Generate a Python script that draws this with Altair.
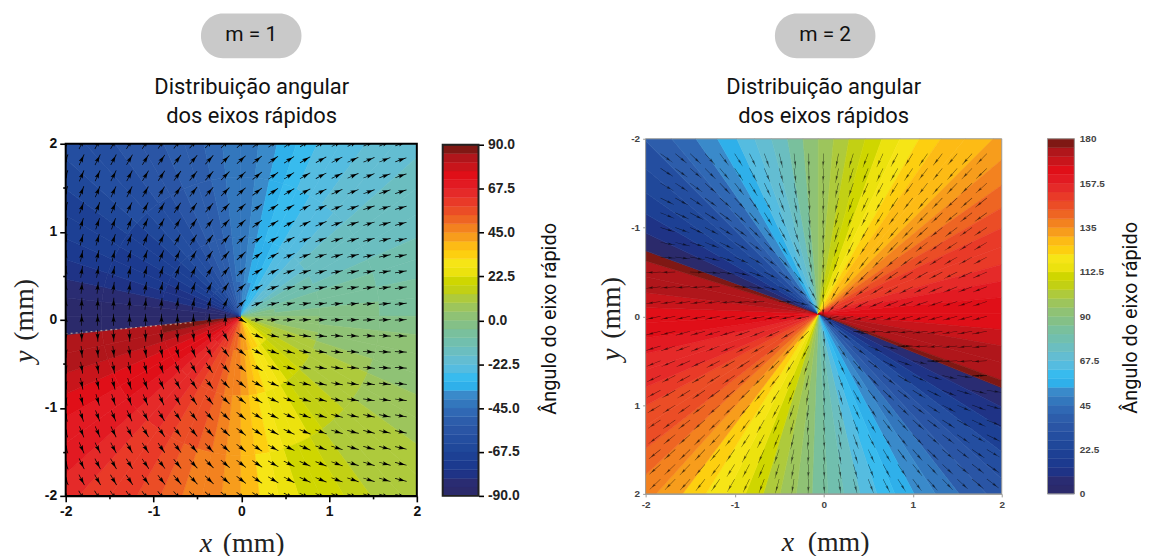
import altair as alt
import pandas as pd

PALETTE = ["#2b2a6b","#2a2c72","#1f3386","#1c3a8f","#1d4094","#20489a","#244ea0","#2a55a5","#2d5dab","#3068b4",
           "#3377bd","#3a8aca","#2fb0ea","#38bbee","#55bce0","#63bdd2","#6bbec0","#71bfae","#79c09d","#84c087",
           "#8fc275","#9dc55c","#aeca3c","#c2d014","#cfd600","#ece20e","#f6e516","#fdcf10","#fdbb15","#f79d1c",
           "#f3821f","#ee6523","#eb4d26","#e93a28","#e52a29","#e21a22","#e00f18","#c8151b","#b0161b","#7f1814"]
EDGES1 = [-90,-85.5,-81,-76.5,-72,-67.5,-63,-58.5,-54,-49.5,-45,-40.5,-36,-31.5,-27,-22.5,-18,-13.5,-9,-4.5,0,
          4.5,9,13.5,18,22.5,27,31.5,36,40.5,45,49.5,54,58.5,63,67.5,72,76.5,81,85.5,90]
EDGES2 = [0,4.5,9,13.5,18,22.5,27,31.5,36,40.5,45,49.5,54,58.5,63,67.5,72,76.5,81,85.5,90,
          94.5,99,103.5,108,112.5,117,121.5,126,130.5,135,139.5,144,148.5,153,157.5,162,166.5,171,175.5,180]
TICKS1 = [90.0,67.5,45.0,22.5,0.0,-22.5,-45.0,-67.5,-90.0]
TICKS2 = [180,157.5,135,112.5,90,67.5,45,22.5,0]
AXIS_VALUES1 = [-2,-1.5,-1,-0.5,0,0.5,1,1.5,2]
AXIS_VALUES2 = [-2,-1,0,1,2]

# m = 1: colour of each fan sector (start angle, clockwise from top), in four rings
M1_START = [0,6,12,18,24,30,36,42,48,54,60,66,72,78,84,90,96,102,108,114,120,126,132,138,144,150,156,162,168,174,
            180,186,192,198,204,210,216,222,228,234,240,246,252,258,264,270,276,282,288,294,300,306,312,318,324,330,336,342,348,354,360]
M1_RINGS = [0,35,80,140,300]
M1_R1 = [-43,-40,-37,-34,-31,-28,-25,-22,-19,-16,-13,-10,-7,-4,-1,2,5,8,11,14,17,20,23,26,29,32,35,38,41,44,
         47,50,53,56,59,62,65,68,71,74,77,80,83,86,-89,-88,-85,-82,-79,-76,-73,-70,-67,-64,-61,-58,-55,-52,-49,-46]
M1_R2 = [-43,-39,-36,-33,-30,-27,-24,-21,-19,-16,-13,-11,-8,-5,-2,1,3,6,9,11,14,16,19,22,25,28,31,34,38,41,
         45,48,52,55,58,61,64,67,70,73,76,80,83,86,-89,-87,-85,-81,-78,-75,-72,-69,-65,-63,-60,-57,-54,-51,-48,-45]
M1_R3 = [-42,-38,-34,-31,-28,-25,-23,-21,-18,-16,-14,-11,-9,-7,-4,-1,2,4,6,9,10,13,15,17,21,24,26,30,34,39,
         43,47,50,54,57,60,63,66,69,72,76,79,82,85,-88,-86,-84,-80,-76,-73,-70,-68,-64,-61,-59,-56,-54,-50,-47,-44]
M1_R4 = [-42,-37,-33,-30,-27,-24,-22,-20,-18,-16,-14,-12,-10,-8,-5,-2,0,2,4,6,7,9,11,13,16,19,22,26,31,36,
         41,45,49,53,56,59,62,65,68,71,75,79,82,85,-89,-87,-84,-79,-75,-72,-69,-67,-62,-60,-58,-56,-53,-50,-47,-44]

# m = 2: colour of each fan sector
M2_START = [112,117,122,127,132,137,142,147,152,157,162,167,172,177,182,187,192,197,202,207,212,217,222,227,232,237,242,247,252,257,262,267,272,277,282,287,
            290,295,300,305,310,315,320,325,330,335,340,345,350,355,360,365,370,375,380,385,390,395,400,405,410,415,420,425,430,435,440,445,450,455,460,465,470,472]
M2_VALUE = [5,13,22,29,35,40,45,50,55,60,66,72,78,84,90,96,102,108,113,118,124,133,138,141,145,148,150,153,156,160,163,166,169,172,175,179,
            4,11,19,25,31,36,43,50,57,63,70,76,83,90,96,101,107,111,115,119,123,127,130,134,138,142,146,149,152,156,159,162,165,169,172,175,179]

# arrow directions, degrees clockwise on screen, top row first
X1 = [-2,-1.818,-1.636,-1.455,-1.273,-1.091,-0.909,-0.727,-0.545,-0.364,-0.182,0,0.182,0.364,0.545,0.727,0.909,1.091,1.273,1.455,1.636,1.818]
Y1 = [2,1.818,1.636,1.455,1.273,1.091,0.909,0.727,0.545,0.364,0.182,0,-0.182,-0.364,-0.545,-0.727,-0.909,-1.091,-1.273,-1.455,-1.636,-1.818,-2]
A1 = [
[-65,-63,-62,-60,-59,-57,-55,-52,-50,-47,-45,-43,-40,-37,-35,-32,-30,-28,-26,-24,-23,-21],
[-67,-65,-63,-62,-60,-58,-55,-53,-50,-48,-45,-43,-40,-36,-34,-31,-29,-27,-25,-23,-22,-20],
[-68,-67,-65,-63,-62,-59,-57,-54,-51,-48,-45,-43,-39,-35,-33,-30,-28,-26,-24,-22,-20,-19],
[-70,-68,-67,-65,-63,-61,-59,-56,-52,-49,-46,-43,-38,-35,-31,-29,-26,-24,-22,-20,-19,-18],
[-72,-70,-69,-67,-65,-63,-60,-57,-54,-50,-46,-43,-38,-34,-30,-27,-25,-22,-20,-18,-17,-16],
[-74,-73,-71,-70,-68,-65,-62,-59,-56,-51,-47,-43,-37,-32,-29,-26,-23,-20,-18,-17,-16,-15],
[-77,-75,-74,-72,-70,-68,-65,-62,-58,-53,-48,-43,-36,-30,-27,-23,-20,-18,-16,-15,-14,-13],
[-79,-78,-77,-75,-74,-71,-68,-65,-61,-56,-49,-43,-35,-29,-24,-20,-18,-16,-14,-13,-12,-11],
[-82,-81,-80,-79,-77,-75,-73,-70,-65,-59,-51,-43,-32,-26,-20,-17,-15,-13,-12,-11,-10,-10],
[-85,-84,-84,-83,-82,-80,-78,-75,-71,-65,-56,-43,-29,-20,-16,-13,-11,-10,-10,-9,-8,-8],
[-88,-88,-87,-87,-86,-85,-84,-83,-80,-75,-65,-43,-20,-13,-10,-9,-8,-7,-7,-6,-6,-6],
[-90,-90,-90,-90,-90,-90,-90,-90,-90,-90,-90,30,-3,-3,-3,-3,-3,-3,-3,-3,-3,-3],
[88,88,88,87,87,87,86,85,83,78,62,38,23,13,9,7,6,5,4,3,3,2],
[85,84,84,83,82,80,78,74,69,62,52,38,28,20,15,11,9,7,5,4,3,3],
[81,80,80,79,77,75,72,69,62,57,48,38,28,20,15,12,9,8,6,5,4,4],
[79,78,77,75,72,69,66,62,57,52,46,38,30,23,18,15,12,10,9,8,7,6],
[76,75,73,72,70,67,65,62,55,50,44,38,31,25,20,17,15,12,10,9,8,8],
[74,72,69,67,65,62,59,56,52,48,43,38,32,27,23,20,17,15,13,12,11,10],
[70,68,66,64,62,59,56,53,50,47,42,38,33,28,25,22,19,17,15,14,13,12],
[67,66,64,62,60,57,55,52,49,46,42,38,34,29,26,23,20,18,17,15,14,13],
[66,64,62,60,58,56,53,51,48,45,41,38,34,30,27,24,22,20,18,17,15,14],
[64,62,60,59,57,54,52,50,47,44,41,38,35,31,28,25,23,21,19,18,16,15],
[62,60,59,57,55,53,51,49,47,44,41,38,35,32,28,26,24,22,20,19,17,16],
]
X2 = [-1.833,-1.667,-1.5,-1.333,-1.167,-1,-0.833,-0.667,-0.5,-0.333,-0.167,0,0.167,0.333,0.5,0.667,0.833,1,1.167,1.333,1.5,1.667,1.833]
Y2 = X2
A2 = [
[36,40,44,48,53,58,64,70,76,83,90,93,101,107,111,115,118,122,125,128,130,132,134],
[33,36,41,45,50,56,61,67,74,82,89,93,102,108,112,116,120,124,127,129,131,134,136],
[30,33,36,41,46,52,58,65,72,80,88,93,103,109,114,118,122,126,128,131,134,136,138],
[26,29,33,36,41,47,54,61,69,78,86,93,104,110,116,120,124,128,131,134,137,139,141],
[22,25,28,32,36,42,50,58,66,75,85,93,105,112,117,122,127,130,134,137,140,142,144],
[17,20,24,27,31,36,44,52,61,72,84,93,106,114,120,126,130,134,138,141,143,145,147],
[10,14,17,22,26,31,36,45,56,67,82,93,108,116,124,129,134,138,142,144,147,148,149],
[4,7,10,14,18,24,29,36,47,61,78,93,110,120,128,134,139,143,146,148,150,151,152],
[177,178,2,5,9,14,20,27,36,52,72,93,114,126,134,141,145,148,150,152,153,155,156],
[174,175,176,177,178,2,7,14,24,36,61,93,120,134,143,148,151,153,155,157,158,159,159],
[171,171,172,172,173,174,175,177,2,14,36,93,134,148,153,157,159,160,161,161,162,162,162],
[168,168,168,168,168,168,168,168,168,168,168,45,165,165,165,165,165,165,165,165,165,165,165],
[165,165,164,164,163,162,161,158,155,149,136,87,37,11,178,176,174,173,172,171,170,169,169],
[162,161,160,159,158,156,153,150,145,136,118,87,56,37,24,13,1,177,176,175,174,174,173],
[158,157,156,155,152,150,147,143,136,123,109,87,65,49,37,28,20,13,4,178,177,176,176],
[155,153,152,150,148,145,141,136,129,118,103,87,70,56,45,37,30,24,17,13,8,1,178],
[152,150,148,146,144,140,136,130,122,113,100,87,74,61,51,43,37,32,26,22,17,13,8],
[149,147,145,143,139,136,131,125,118,109,98,87,76,65,56,49,43,37,33,28,24,20,16],
[146,144,142,139,136,132,127,120,114,106,96,87,78,68,59,52,47,41,37,33,29,26,23],
[143,141,139,136,133,129,123,118,112,103,95,87,79,70,62,56,50,45,40,37,34,30,27],
[141,138,136,133,130,125,120,114,109,102,94,87,80,72,65,59,53,49,44,40,37,34,31],
[138,136,134,131,127,122,118,113,107,100,93,87,80,74,67,61,56,51,47,43,40,37,34],
[136,134,132,128,125,120,116,111,105,99,93,87,81,75,69,63,58,53,49,46,43,40,37],
]

ARROW1 = "M-6 -.35 L-1.2 -.35 L-2.4 -2.1 L3 -.5 L6 -.35 L6 .35 L3 .5 L-2.4 2.1 L-1.2 .35 L-6 .35 Z"
ARROW2 = "M0 -.25 L8.5 -.25 L7.5 -1.2 L12 -.25 L15 -.15 L15 .15 L12 .25 L7.5 1.2 L8.5 .25 L0 .25 Z"
SANS = "Roboto"
ARIAL = "Liberation Sans"
SERIF = "Liberation Serif"
GREY = "#9a9a96"


def table(**cols):
    return pd.DataFrame(cols)


def fan_rows(starts, values, r0, r1):
    return [{"t0": starts[k], "t1": starts[k + 1], "v": values[k], "r0": r0, "r1": r1} for k in range(len(values))]


def fan(rows, cx, cy, xs, ys, cs, ax):
    df = pd.DataFrame(rows)
    df["cx"] = cx
    df["cy"] = cy
    theta = alt.Scale(domain=[0, 360], range=[0, 6.283185307])
    return alt.Chart(df).mark_arc(clip=True, strokeWidth=0.6).encode(
        x=alt.X("cx:Q", scale=xs, axis=alt.Axis(**ax)),
        y=alt.Y("cy:Q", scale=ys, axis=alt.Axis(**ax)),
        theta=alt.Theta("t0:Q", scale=theta, stack=None),
        theta2=alt.Theta2("t1:Q"),
        radius=alt.Radius("r1:Q", scale=None),
        radius2=alt.Radius2("r0:Q"),
        color=alt.Color("v:Q", scale=cs, legend=None),
        stroke=alt.Stroke("v:Q", scale=cs, legend=None),
    )


def arrows(xv, yv, ang, shape, xs, ys, opacity, ax):
    rows = [{"x": xv[c], "y": yv[r], "a": ang[r][c]} for r in range(len(yv)) for c in range(len(xv))]
    return alt.Chart(pd.DataFrame(rows)).mark_point(
        shape=shape, filled=True, size=4, color="black", opacity=opacity, clip=True, strokeWidth=0
    ).encode(
        x=alt.X("x:Q", scale=xs, axis=alt.Axis(**ax)),
        y=alt.Y("y:Q", scale=ys, axis=alt.Axis(**ax)),
        angle=alt.Angle("a:Q", scale=None),
    )


def frame(w, h, color, sw):
    return alt.Chart(table(a=[0])).mark_rect(fill=None, stroke=color, strokeWidth=sw).encode(
        x=alt.value(0), x2=alt.value(w), y=alt.value(0), y2=alt.value(h)
    )


def label(text, x, y, font, size, **kw):
    return alt.Chart(table(t=[text])).mark_text(font=font, fontSize=size, **kw).encode(
        x=alt.value(x), y=alt.value(y), text="t:N"
    )


def header(w, h, pill0, pill1, m, cx):
    pill = alt.Chart(table(a=[0])).mark_rect(color="#c9c9c9", cornerRadius=22).encode(
        x=alt.value(pill0), x2=alt.value(pill1), y=alt.value(4), y2=alt.value(49)
    )
    return alt.layer(
        pill,
        label(m, (pill0 + pill1) / 2, 26, SANS, 21, align="center", baseline="middle", color="#111"),
        label("Distribuição angular", cx, 78, SANS, 22, align="center", baseline="middle", color="#111"),
        label("dos eixos rápidos", cx, 107, SANS, 22, align="center", baseline="middle", color="#111"),
    ).properties(width=w, height=h)


def colourbar(edges, ticks, dom, w, h, line, sw, axis):
    df = table(y0=edges[:-1], y1=edges[1:], c=PALETTE)
    bar = alt.Chart(df).mark_rect(strokeWidth=0.4).encode(
        x=alt.value(0), x2=alt.value(w),
        y=alt.Y("y0:Q", scale=alt.Scale(domain=dom, nice=False, zero=False), axis=axis),
        y2="y1:Q",
        color=alt.Color("c:N", scale=None),
        stroke=alt.Stroke("c:N", scale=None),
    )
    return bar, frame(w, h, line, sw)


# ---- m = 1
P1W, P1H = 353, 354
xs1 = alt.Scale(domain=[-2, 2], nice=False, zero=False)
ys1 = alt.Scale(domain=[-2, 2], nice=False, zero=False)
cs1 = alt.Scale(type="quantize", domain=[-90, 90], range=PALETTE)
tick_size = {"condition": {"test": "datum.value % 1 !== 0", "value": 3}, "value": 6}
ax1 = dict(values=AXIS_VALUES1, title=None, grid=False, labelExpr="datum.value % 1 === 0 ? '' + datum.value : ''",
           labelFont=ARIAL, labelFontWeight="bold", labelFontSize=14, labelColor="#111", labelPadding=3, labelFlush=False,
           domainColor="black", domainWidth=2, tickColor="black", tickWidth=1.6, tickSize=tick_size, labelOverlap=False)
rows1 = (fan_rows(M1_START, M1_R1, M1_RINGS[0], M1_RINGS[1])
         + fan_rows(M1_START, M1_R2, M1_RINGS[1], M1_RINGS[2])
         + fan_rows(M1_START, M1_R3, M1_RINGS[2], M1_RINGS[3])
         + fan_rows(M1_START, M1_R4, M1_RINGS[3], M1_RINGS[4]))
speck = alt.Chart(table(x=[-2, -0.55], y=[-0.16, -0.03])).mark_line(
    clip=True, strokeDash=[2, 3], strokeWidth=1.2, color="#d9c2a8", opacity=0.75
).encode(x=alt.X("x:Q", scale=xs1, axis=alt.Axis(**ax1)), y=alt.Y("y:Q", scale=ys1, axis=alt.Axis(**ax1)))
panel1 = alt.layer(
    fan(rows1, -0.01, 0.04, xs1, ys1, cs1, ax1),
    speck,
    arrows(X1, Y1, A1, ARROW1, xs1, ys1, 1, ax1),
    frame(P1W, P1H, "black", 2),
    label("x", 141, 402, SERIF, 28, align="center", baseline="middle", fontStyle="italic", color="#222"),
    label("(mm)", 189, 402, SERIF, 28, align="center", baseline="middle", color="#222"),
    label("y", -41, 214, SERIF, 28, align="center", baseline="middle", fontStyle="italic", angle=270, color="#222"),
    label("(mm)", -41, 167, SERIF, 28, align="center", baseline="middle", angle=270, color="#222"),
).properties(width=P1W, height=P1H)
col1 = alt.vconcat(header(P1W, 128, 136, 237, "m = 1", 187), panel1, spacing=0)

bar1_axis = alt.Axis(values=TICKS1, orient="right", title=None, grid=False,
                     labelExpr="replace(format(datum.value, '.1f'), '\u2212', '-')", labelFont=ARIAL,
                     labelFontWeight="bold", labelFontSize=14, labelColor="#222", labelPadding=4,
                     domain=False, tickColor="black", tickWidth=1.6, tickSize=5, labelOverlap=False)
b1, f1 = colourbar(EDGES1, TICKS1, [-90, 90], 36, 353, "#222", 2, bar1_axis)
bar1 = alt.layer(
    b1, f1,
    label("Ângulo do eixo rápido", 108, 175, SANS, 20, align="center", baseline="middle", angle=270, color="#111"),
).properties(width=36, height=353)
col1b = alt.vconcat(
    alt.Chart(table(t=[""])).mark_text().encode(text="t:N").properties(width=36, height=129), bar1, spacing=0
)

# ---- m = 2
P2W, P2H = 358, 357
xs2 = alt.Scale(domain=[-2, 2], nice=False, zero=False)
ys2 = alt.Scale(domain=[-2, 2], nice=False, zero=False, reverse=True)
cs2 = alt.Scale(type="quantize", domain=[0, 180], range=PALETTE)
ax2 = dict(values=AXIS_VALUES2, title=None, grid=False, labelFont=ARIAL, labelFontWeight="bold", labelFontSize=10, labelFlush=False,
           labelColor="#444", labelPadding=3, domainColor=GREY, tickColor=GREY, tickSize=3, labelExpr="'' + datum.value", labelOverlap=False)
rows2 = fan_rows(M2_START, M2_VALUE, 0, 320)
panel2 = alt.layer(
    fan(rows2, -0.06, -0.03, xs2, ys2, cs2, ax2),
    arrows(X2, Y2, A2, ARROW2, xs2, ys2, 0.65, ax2),
    frame(P2W, P2H, GREY, 1),
    label("x", 143, 406, SERIF, 28, align="center", baseline="middle", fontStyle="italic", color="#222"),
    label("(mm)", 194, 406, SERIF, 28, align="center", baseline="middle", color="#222"),
    label("y", -34, 217, SERIF, 28, align="center", baseline="middle", fontStyle="italic", angle=270, color="#222"),
    label("(mm)", -34, 170, SERIF, 28, align="center", baseline="middle", angle=270, color="#222"),
).properties(width=P2W, height=P2H)
col2 = alt.vconcat(header(P2W, 125, 130, 231, "m = 2", 179), panel2, spacing=0).resolve_scale(color="independent", stroke="independent")

bar2_axis = alt.Axis(values=TICKS2, orient="right", title=None, grid=False, labelExpr="'' + datum.value", labelFont=ARIAL,
                     labelFontWeight="bold", labelFontSize=10, labelColor="#444", labelPadding=5,
                     domain=False, ticks=False, labelOverlap=False)
b2, f2 = colourbar(EDGES2, TICKS2, [0, 180], 27, 357, GREY, 1, bar2_axis)
bar2 = alt.layer(
    b2, f2,
    label("Ângulo do eixo rápido", 84, 180, SANS, 20, align="center", baseline="middle", angle=270, color="#111"),
).properties(width=27, height=357)
col2b = alt.vconcat(
    alt.Chart(table(t=[""])).mark_text().encode(text="t:N").properties(width=27, height=125), bar2, spacing=0
)

left = alt.hconcat(col1, col1b, spacing=21).resolve_scale(color="independent", stroke="independent")
right = alt.hconcat(col2, col2b, spacing=42).resolve_scale(color="independent", stroke="independent")
chart = alt.hconcat(left, right, spacing=38).resolve_scale(color="independent", stroke="independent").properties(
    padding={"left": 3, "top": 0, "right": 0, "bottom": 0}
).configure_view(stroke=None).configure_concat(spacing=0)

chart.save("out.html", embed_options={"renderer": "svg", "actions": False})
